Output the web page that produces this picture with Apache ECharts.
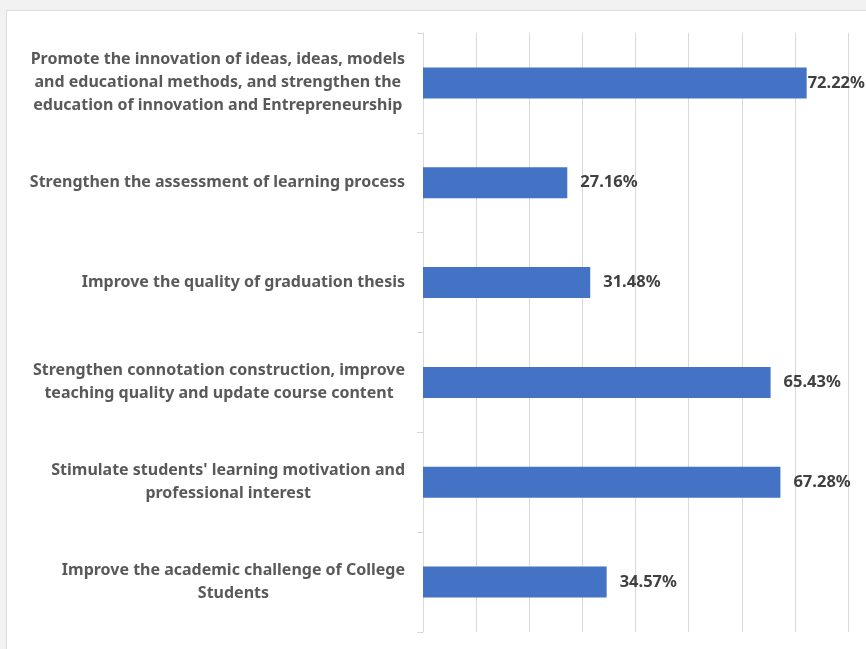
<!DOCTYPE html>
<html>
<head>
<meta charset="utf-8">
<script src="https://cdn.jsdelivr.net/npm/echarts@6/dist/echarts.min.js"></script>
<style>
  html, body { margin: 0; padding: 0; width: 866px; height: 649px; overflow: hidden; background: #f2f2f2; }
  #panel { position: absolute; left: 6px; top: 10px; width: 880px; height: 660px; background: #ffffff; border: 1px solid #dcdcdc; }
  #chart { position: absolute; left: 0; top: 0; width: 866px; height: 649px; }
</style>
</head>
<body>
<div id="panel"></div>
<div id="chart"></div>
<script>
// Measures listed from top to bottom
const categories = [
  'Promote the innovation of ideas, ideas, models\nand educational methods, and strengthen the\neducation of innovation and Entrepreneurship',
  'Strengthen the assessment of learning process',
  'Improve the quality of graduation thesis',
  'Strengthen connotation construction, improve\nteaching quality and update course content',
  "Stimulate students' learning motivation and\nprofessional interest",
  'Improve the academic challenge of College\nStudents'
];

// Share of respondents, in percent
const values = [72.22, 27.16, 31.48, 65.43, 67.28, 34.57];

const axisMin = 0;
const axisMax = 80;
const axisStep = 10;

const labelFont = 'Noto Sans';
const chart = echarts.init(document.getElementById('chart'), null, { renderer: 'canvas' });

// Labels that would run past the plot edge sit tight against their bar
const seriesData = values.map(v => ({
  value: v,
  label: { distance: v > 70 ? 1 : 13 }
}));

chart.setOption({
  backgroundColor: 'transparent',
  animation: false,
  grid: { left: 423, right: 18, top: 33, bottom: 17, containLabel: false },
  xAxis: {
    type: 'value',
    min: axisMin,
    max: axisMax,
    interval: axisStep,
    axisLabel: { show: false },
    axisLine: { show: false },
    axisTick: { show: false },
    splitLine: { show: true, lineStyle: { color: '#d9d9d9', width: 1 } }
  },
  yAxis: {
    type: 'category',
    inverse: true,
    data: categories,
    axisLine: { show: true, lineStyle: { color: '#d9d9d9', width: 1 } },
    axisTick: { show: true, length: 6, lineStyle: { color: '#d9d9d9' } },
    axisLabel: {
      margin: 18,
      formatter: text => text.split('\n').map(line => '{c|' + line + '}').join('\n'),
      rich: {
        c: {
          align: 'center',
          fontFamily: labelFont,
          fontWeight: 'bold',
          fontSize: 16,
          lineHeight: 23,
          color: '#595959'
        }
      }
    }
  },
  series: [{
    type: 'bar',
    data: seriesData,
    barWidth: 31,
    itemStyle: { color: '#4472c4' },
    label: {
      show: true,
      position: 'right',
      formatter: p => p.value.toFixed(2) + '%',
      fontFamily: labelFont,
      fontWeight: 'bold',
      fontSize: 16.5,
      color: '#404040'
    }
  }]
});
</script>
</body>
</html>
